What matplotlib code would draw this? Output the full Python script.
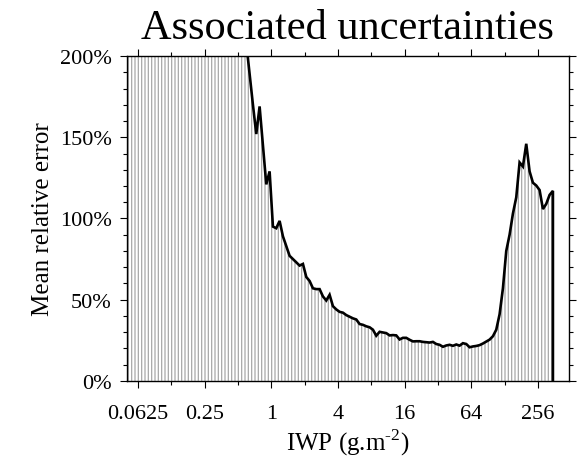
import numpy as np
import matplotlib
matplotlib.use("Agg")
import matplotlib.pyplot as plt
from matplotlib.ticker import FixedLocator, FuncFormatter, NullFormatter

plt.rcParams['font.family'] = ['Liberation Serif', 'DejaVu Serif']
plt.rcParams['mathtext.fontset'] = 'custom'
plt.rcParams['mathtext.rm'] = 'Liberation Serif'
plt.rcParams['hatch.linewidth'] = 0.9

# IWP bins: 10 per factor of two, centres at 2**(-4.35) ... 2**(8.45)
log2_start = -4.35
bins_per_octave = 10

# mean relative error (%) per bin (left part is off-scale)
err_low = [620, 600, 585, 560, 545, 530, 510, 495, 480, 465, 450, 440,
           425, 415, 400, 390, 380, 368, 355, 345, 335, 325, 315, 305,
           298, 290, 282, 274, 266, 258, 250, 243, 236, 229, 222, 215]
err_mid = [208, 189, 170, 152, 169, 145, 121, 129,
           95, 94, 98.5, 89, 83, 77, 75, 73, 71, 72,
           64, 61.5, 57, 56.5, 56.5, 52, 49.5, 53, 46, 44,
           42.5, 42, 40.5, 39.5, 38.5, 37.8, 35, 34.5, 33.6, 33,
           31.5, 27.8, 30.2, 29.8, 29.4, 28, 28.2, 28, 25.5, 26.5,
           26.5, 25.3, 24.3, 24.4, 24.4, 24, 23.8, 23.6, 24, 22.7]
err_high = [22.2, 21, 21.8, 22.2, 21.6, 22.4, 21.7, 23.2, 22.7, 20.7,
            21.2, 21.5, 22, 23, 24.2, 25.4, 27.5, 31.5, 41, 57,
            80, 90, 103, 113, 134.5, 132, 146, 129, 122, 120.3,
            117.5, 105.8, 109, 114.5, 117]

xticks = [0.0625, 0.25, 1, 4, 16, 64, 256]
xtick_labels = ['0.0625', '0.25', '1', '4', '16', '64', '256']
xminor = [0.125, 0.5, 2, 8, 32, 128]
yticks = [0, 50, 100, 150, 200]


def main():
    err = np.array(err_low + err_mid + err_high, dtype=float)
    iwp = 2.0 ** (log2_start + np.arange(err.size) / bins_per_octave)

    fig = plt.figure(figsize=(5.77, 4.64), dpi=100)
    ax = fig.add_axes([0.220, 0.177, 0.766, 0.700])

    # vertically hatched area under the curve
    ax.fill_between(iwp, 0, err, facecolor='white', edgecolor='#a8a8a8',
                    hatch='|||||', linewidth=0)
    ax.plot(np.append(iwp, iwp[-1]), np.append(err, 0), color='black',
            lw=1.9, solid_joinstyle='miter')

    ax.set_xscale('log', base=2)
    ax.set_xlim(2 ** -4.33, 2 ** 8.93)
    ax.set_ylim(0, 200)

    ax.xaxis.set_major_locator(FixedLocator(xticks))
    ax.xaxis.set_minor_locator(FixedLocator(xminor))
    ax.xaxis.set_minor_formatter(NullFormatter())
    ax.set_xticklabels(xtick_labels)
    ax.set_yticks(yticks)
    ax.yaxis.set_minor_locator(FixedLocator(np.arange(0, 201, 10)))
    ax.yaxis.set_major_formatter(FuncFormatter(lambda v, p: '%d%%' % v))

    ax.tick_params(which='both', direction='out', top=True, right=True,
                   labelsize=16, width=0.8, color='black')
    ax.tick_params(which='major', length=5)
    ax.tick_params(which='minor', length=3)
    ax.tick_params(axis='x', which='major', pad=12)
    ax.tick_params(axis='y', which='major', pad=6)
    for s in ax.spines.values():
        s.set_linewidth(1.0)

    ax.set_xlabel('IWP (g.m$^{\\text{-2}}$)', fontsize=18, labelpad=2)
    ax.set_ylabel('Mean relative error', fontsize=18, labelpad=4)
    ax.set_title('Associated uncertainties', fontsize=30.5, pad=13)

    fig.savefig('out.png', dpi=100)


if __name__ == "__main__":

    main()
